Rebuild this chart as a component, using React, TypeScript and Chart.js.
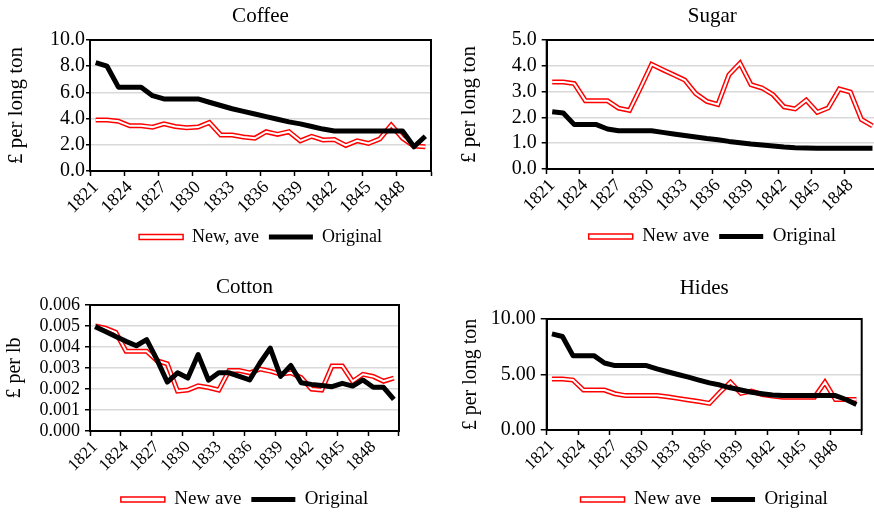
import React, { useEffect, useRef } from 'react';
import { Chart, registerables } from 'chart.js';

Chart.register(...registerables);

const years = ['1821','1822','1823','1824','1825','1826','1827','1828','1829','1830','1831','1832','1833','1834','1835','1836','1837','1838','1839','1840','1841','1842','1843','1844','1845','1846','1847','1848','1849','1850'];

const coffeeNew = [3.9,3.9,3.8,3.45,3.45,3.35,3.6,3.4,3.3,3.35,3.7,2.75,2.75,2.6,2.5,3.0,2.8,3.0,2.3,2.65,2.37,2.4,1.95,2.3,2.1,2.45,3.5,2.5,1.9,1.85];
const coffeeOriginal = [8.27,8.0,6.4,6.4,6.4,5.75,5.5,5.5,5.5,5.5,5.25,5.0,4.75,4.55,4.35,4.15,3.95,3.75,3.6,3.4,3.2,3.05,3.05,3.05,3.05,3.05,3.05,3.05,1.85,2.65];

const sugarNew = [3.37,3.37,3.31,2.65,2.65,2.65,2.36,2.27,3.15,4.06,3.85,3.65,3.45,2.92,2.62,2.5,3.65,4.1,3.27,3.14,2.88,2.41,2.33,2.67,2.2,2.37,3.1,2.98,1.92,1.67];
const sugarOriginal = [2.22,2.17,1.72,1.72,1.72,1.55,1.48,1.48,1.48,1.48,1.42,1.36,1.3,1.24,1.18,1.13,1.07,1.02,0.97,0.93,0.89,0.85,0.82,0.81,0.8,0.8,0.8,0.8,0.8,0.8];

const cottonNew = [0.0050,0.0049,0.0047,0.0038,0.0038,0.0038,0.00335,0.0032,0.0019,0.00195,0.00215,0.00207,0.00195,0.00288,0.00288,0.00277,0.00295,0.00285,0.0027,0.00277,0.00254,0.0020,0.00195,0.0031,0.0031,0.00236,0.0027,0.0026,0.00237,0.00252];
const cottonOriginal = [0.00497,0.00474,0.0045,0.00427,0.00406,0.00435,0.0034,0.00233,0.00277,0.00252,0.00364,0.00242,0.00277,0.00277,0.0026,0.00243,0.00324,0.00395,0.0026,0.00312,0.0023,0.00222,0.00217,0.00211,0.00227,0.00214,0.00243,0.00208,0.00208,0.00151];

const hidesNew = [4.6,4.6,4.5,3.6,3.6,3.6,3.27,3.1,3.1,3.1,3.1,3.0,2.85,2.7,2.56,2.4,3.4,4.3,3.3,3.5,3.2,3.05,2.95,2.95,2.95,2.95,4.3,2.75,2.75,2.75];
const hidesOriginal = [8.66,8.42,6.7,6.7,6.7,6.04,5.8,5.8,5.8,5.8,5.5,5.25,5.0,4.76,4.5,4.25,4.05,3.8,3.6,3.4,3.27,3.15,3.1,3.1,3.1,3.1,3.1,3.1,2.75,2.3];

const FONT = '"Liberation Serif", "Times New Roman", serif';

type PanelDef = {
  title: string;
  newLabel: string;
  newData: number[];
  origData: number[];
  yTitle: string;
  yMax: number;
  yStep: number;
  decimals: number;
  x: number; y: number; w: number; h: number;
  area: { left: number; top: number; right: number; bottom: number };
  titleCenter: number;
  yTitleCenter: number;
  tickFont: number;
  xTickFont: number;
  titleFont: number;
  legendFont: number;
  yTitleFont: number;
  tickLen: number;
  tickPad: number;
};

const panels: PanelDef[] = [
  {
    title: 'Coffee', newLabel: 'New, ave', newData: coffeeNew, origData: coffeeOriginal,
    yTitle: '£ per long ton', yMax: 10, yStep: 2, decimals: 1,
    x: 0, y: 0, w: 437, h: 256,
    area: { left: 90, top: 40, right: 431, bottom: 171 },
    titleCenter: 16, yTitleCenter: 16,
    tickFont: 20, xTickFont: 18, titleFont: 21, legendFont: 18, yTitleFont: 21, tickLen: 4, tickPad: 1,
  },
  {
    title: 'Sugar', newLabel: 'New ave', newData: sugarNew, origData: sugarOriginal,
    yTitle: '£ per long ton', yMax: 5, yStep: 1, decimals: 1,
    x: 437, y: 0, w: 445, h: 256,
    area: { left: 109.7, top: 40, right: 441, bottom: 170 },
    titleCenter: 16, yTitleCenter: 32,
    tickFont: 20, xTickFont: 18, titleFont: 21, legendFont: 19, yTitleFont: 21, tickLen: 5, tickPad: 5,
  },
  {
    title: 'Cotton', newLabel: 'New ave', newData: cottonNew, origData: cottonOriginal,
    yTitle: '£ per lb', yMax: 0.006, yStep: 0.001, decimals: 3,
    x: 0, y: 256, w: 437, h: 263,
    area: { left: 90, top: 49, right: 399, bottom: 176 },
    titleCenter: 31, yTitleCenter: 15,
    tickFont: 18, xTickFont: 17, titleFont: 21, legendFont: 19, yTitleFont: 20, tickLen: 5, tickPad: 5,
  },
  {
    title: 'Hides', newLabel: 'New ave', newData: hidesNew, origData: hidesOriginal,
    yTitle: '£ per long ton', yMax: 10, yStep: 5, decimals: 2,
    x: 437, y: 256, w: 437, h: 263,
    area: { left: 109.7, top: 63, right: 424.7, bottom: 175 },
    titleCenter: 32, yTitleCenter: 34,
    tickFont: 20, xTickFont: 17, titleFont: 21, legendFont: 19, yTitleFont: 20, tickLen: 6, tickPad: 5,
  },
];

const framePlugin = {
  id: 'frame',
  afterDraw(chart: any) {
    const { ctx, chartArea } = chart;
    ctx.save();
    ctx.strokeStyle = '#000';
    ctx.lineWidth = 2;
    ctx.strokeRect(chartArea.left, chartArea.top, chartArea.right - chartArea.left, chartArea.bottom - chartArea.top);
    ctx.restore();
  },
};

function Panel({ p }: { p: PanelDef }) {
  const ref = useRef<HTMLCanvasElement | null>(null);
  useEffect(() => {
    if (!ref.current) return;
    const titleLH = p.titleFont * 1.2;
    const titlePadTop = p.titleCenter - titleLH / 2;
    const titlePadBottom = p.area.top - titlePadTop - titleLH;
    const legendTop = p.h - 38;
    const xHeight = legendTop - p.area.bottom;
    const yWidth = p.area.left;
    const yTitleLH = p.yTitleFont * 1.2;
    const yTitlePad = p.yTitleCenter - yTitleLH / 2;

    const chart = new Chart(ref.current, {
      type: 'line',
      data: {
        labels: years,
        datasets: [
          { label: p.newLabel, data: p.newData, borderColor: '#ff0000', backgroundColor: '#ffffff', borderWidth: 5, pointRadius: 0, tension: 0, order: 3, borderJoinStyle: 'miter' },
          { label: '_inner', data: p.newData, borderColor: '#ffffff', backgroundColor: '#ffffff', borderWidth: 2, pointRadius: 0, tension: 0, order: 2, borderJoinStyle: 'miter' },
          { label: 'Original', data: p.origData, borderColor: '#000000', backgroundColor: '#000000', borderWidth: 5, pointRadius: 0, tension: 0, order: 1, borderJoinStyle: 'round' },
        ],
      },
      options: {
        responsive: false,
        maintainAspectRatio: false,
        animation: false,
        devicePixelRatio: 1,
        layout: { padding: { left: 0, top: 0, right: p.w - p.area.right, bottom: 0 } },
        plugins: {
          tooltip: { enabled: false },
          title: {
            display: true,
            text: p.title,
            fullSize: false,
            color: '#000',
            font: { family: FONT, size: p.titleFont, weight: 'normal', lineHeight: 1.2 },
            padding: { top: titlePadTop, bottom: titlePadBottom },
          },
          legend: {
            display: true,
            position: 'bottom',
            fullSize: false,
            labels: {
              color: '#000',
              font: { family: FONT, size: p.legendFont },
              boxWidth: 44,
              boxHeight: 5,
              padding: 10,
              generateLabels: (chart: any) => {
                const items = Chart.defaults.plugins.legend.labels.generateLabels(chart);
                return items
                  .filter((i: any) => i.text !== '_inner')
                  .sort((a: any, b: any) => a.datasetIndex - b.datasetIndex)
                  .map((i: any) =>
                    i.datasetIndex === 0
                      ? { ...i, fillStyle: '#ffffff', strokeStyle: '#ff0000', lineWidth: 1.5 }
                      : { ...i, fillStyle: '#000000', strokeStyle: '#000000', lineWidth: 0 }
                  );
              },
            },
          },
        },
        scales: {
          x: {
            type: 'category',
            offset: true,
            border: { display: true, color: '#000', width: 2 },
            grid: {
              offset: true,
              drawOnChartArea: false,
              drawTicks: true,
              tickLength: 5,
              tickWidth: 1.5,
              tickColor: (ctx: any) => (ctx.type === 'scale' || ctx.index % 3 === 0 ? '#000' : 'rgba(0,0,0,0)'),
              color: 'rgba(0,0,0,0)',
            },
            ticks: {
              autoSkip: false,
              maxRotation: 45,
              minRotation: 45,
              padding: 1,
              color: '#000',
              font: { family: FONT, size: p.xTickFont },
              callback: (_v: any, idx: number) => (idx % 3 === 0 ? years[idx] : ''),
            },
            afterFit: (scale: any) => {
              scale.height = xHeight;
              scale.paddingLeft = 0;
              scale.paddingRight = 0;
            },
          },
          y: {
            min: 0,
            max: p.yMax,
            border: { display: true, color: '#000', width: 2 },
            grid: {
              color: '#d9d9d9',
              lineWidth: 1.5,
              tickColor: '#000',
              tickLength: p.tickLen,
              tickWidth: 1.5,
            },
            ticks: {
              stepSize: p.yStep,
              autoSkip: false,
              padding: p.tickPad,
              color: '#000',
              font: { family: FONT, size: p.tickFont },
              callback: (v: any) => Number(v).toFixed(p.decimals),
            },
            title: {
              display: true,
              text: p.yTitle,
              color: '#000',
              font: { family: FONT, size: p.yTitleFont, lineHeight: 1.2 },
              padding: { top: yTitlePad, bottom: 0 },
            },
            afterFit: (scale: any) => {
              scale.width = yWidth;
              scale.paddingTop = 0;
              scale.paddingBottom = 0;
            },
          },
        },
      },
      plugins: [framePlugin],
    } as any);
    return () => chart.destroy();
  }, [p]);
  return (
    <canvas
      ref={ref}
      width={p.w}
      height={p.h}
      style={{ position: 'absolute', left: p.x, top: p.y, width: p.w, height: p.h }}
    />
  );
}

export default function App() {
  return (
    <div style={{ position: 'absolute', left: 0, top: 0, width: 874, height: 512, overflow: 'hidden', background: '#fff' }}>
      {panels.map((p) => (
        <Panel key={p.title} p={p} />
      ))}
    </div>
  );
}
